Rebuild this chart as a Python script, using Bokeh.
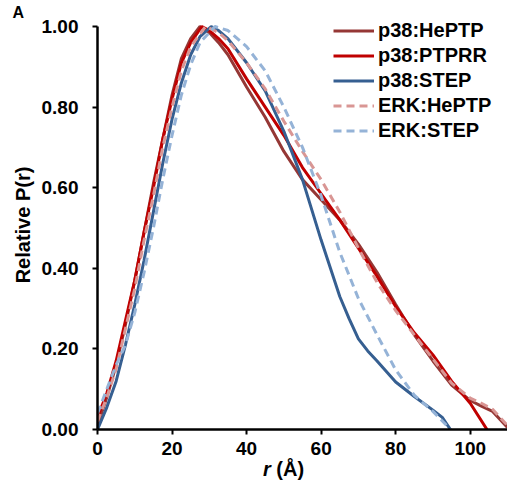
from bokeh.plotting import figure
from bokeh.models import Range1d, FixedTicker, NumeralTickFormatter, Div
from bokeh.layouts import column
from bokeh.embed import file_html
from bokeh.resources import INLINE

# ---- data ----
r_p38_heptp = [0, 2.5, 5, 7.5, 10, 12.5, 15, 17.5, 20, 22.5, 25, 27.5, 30, 32.5, 35, 40, 45, 50, 55, 60, 65, 70, 75, 80, 85, 90, 95, 100, 103, 106, 108, 110]
p_p38_heptp = [0.01, 0.08, 0.16, 0.26, 0.37, 0.49, 0.61, 0.72, 0.83, 0.92, 0.97, 1.0, 0.985, 0.96, 0.93, 0.85, 0.775, 0.69, 0.62, 0.57, 0.52, 0.46, 0.39, 0.31, 0.235, 0.17, 0.11, 0.072, 0.058, 0.045, 0.025, 0.005]

r_p38_ptprr = [0, 2.5, 5, 7.5, 10, 12.5, 15, 17.5, 20, 22.5, 25, 28, 30, 32.5, 35, 40, 45, 50, 55, 60, 65, 70, 75, 80, 85, 90, 95, 100, 104.5]
p_p38_ptprr = [0.03, 0.09, 0.17, 0.27, 0.37, 0.49, 0.60, 0.72, 0.82, 0.91, 0.96, 1.0, 0.99, 0.97, 0.945, 0.87, 0.80, 0.73, 0.65, 0.585, 0.52, 0.45, 0.38, 0.305, 0.24, 0.185, 0.12, 0.065, 0.0]

r_p38_step = [0, 2.5, 5, 7.5, 10, 12.5, 15, 17.5, 20, 22.5, 25, 27.5, 30.5, 32.5, 35, 40, 45, 50, 55, 60, 65, 67.5, 70, 72.5, 75, 80, 85, 90, 92.5, 94.7]
p_p38_step = [0.0, 0.055, 0.12, 0.21, 0.31, 0.42, 0.54, 0.66, 0.77, 0.86, 0.93, 0.975, 1.0, 0.99, 0.97, 0.91, 0.84, 0.74, 0.62, 0.47, 0.33, 0.275, 0.225, 0.195, 0.17, 0.118, 0.082, 0.048, 0.03, 0.0]

r_erk_heptp = [0, 2.5, 5, 7.5, 10, 12.5, 15, 17.5, 20, 22.5, 25, 29, 32.5, 35, 40, 45, 50, 55, 60, 65, 70, 75, 80, 85, 90, 95, 100, 103, 106, 108, 110]
p_erk_heptp = [0.02, 0.08, 0.15, 0.25, 0.35, 0.47, 0.58, 0.70, 0.80, 0.89, 0.95, 1.0, 0.985, 0.965, 0.91, 0.845, 0.765, 0.69, 0.62, 0.54, 0.45, 0.365, 0.295, 0.235, 0.175, 0.115, 0.078, 0.065, 0.05, 0.03, 0.01]

r_erk_step = [0, 2.5, 5, 7.5, 10, 12.5, 15, 17.5, 20, 22.5, 25, 27.5, 31.5, 35, 40, 45, 50, 55, 60, 65, 70, 75, 80, 85, 90, 94.7]
p_erk_step = [0.04, 0.10, 0.16, 0.21, 0.29, 0.39, 0.50, 0.62, 0.73, 0.83, 0.905, 0.96, 1.0, 0.99, 0.95, 0.89, 0.80, 0.70, 0.58, 0.44, 0.325, 0.235, 0.148, 0.085, 0.045, 0.0]

x_ticks = [0, 20, 40, 60, 80, 100]
y_ticks = [0.0, 0.2, 0.4, 0.6, 0.8, 1.0]

FONT = "Liberation Sans"

p = figure(width=507, height=462, output_backend="svg", toolbar_location=None,
           x_range=Range1d(0, 110), y_range=Range1d(0, 1.0149),
           min_border_left=97, min_border_top=20, min_border_right=0, min_border_bottom=33,
           title="A", margin=(0, 0, 0, 0))
p.grid.visible = False
p.outline_line_color = None
p.background_fill_color = "white"

p.title.align = "left"
p.title.offset = -85
p.title.standoff = 0
p.title.text_font = FONT
p.title.text_font_style = "bold"
p.title.text_font_size = "16px"
p.title.text_color = "black"

series = [
    (r_p38_heptp, p_p38_heptp, "#953735", "solid", "p38:HePTP"),
    (r_p38_ptprr, p_p38_ptprr, "#C00000", "solid", "p38:PTPRR"),
    (r_p38_step, p_p38_step, "#365F91", "solid", "p38:STEP"),
    (r_erk_heptp, p_erk_heptp, "#D99694", "8 5", "ERK:HePTP"),
    (r_erk_step, p_erk_step, "#95B3D7", "8 5", "ERK:STEP"),
]
for xs, ys, col, dash, lab in series:
    p.line(xs, ys, line_color=col, line_width=3, line_dash=dash, legend_label=lab)

for ax in (p.xaxis[0], p.yaxis[0]):
    ax.axis_line_color = "black"
    ax.axis_line_width = 2.5
    ax.major_tick_line_color = "black"
    ax.major_tick_line_width = 2
    ax.major_tick_out = 5
    ax.major_tick_in = 0
    ax.minor_tick_line_color = None
    ax.major_label_text_font = FONT
    ax.major_label_text_font_style = "bold"
    ax.major_label_text_font_size = "19px"
    ax.major_label_text_color = "black"

p.xaxis.ticker = FixedTicker(ticks=x_ticks)
p.yaxis.ticker = FixedTicker(ticks=y_ticks)
p.yaxis.formatter = NumeralTickFormatter(format="0.00")
p.yaxis.bounds = (0, 1)
p.xaxis.major_label_standoff = 7
p.yaxis.major_label_standoff = 14

p.yaxis.axis_label = "Relative P(r)"
p.yaxis.axis_label_text_font = FONT
p.yaxis.axis_label_text_font_style = "bold"
p.yaxis.axis_label_text_font_size = "20px"
p.yaxis.axis_label_text_color = "black"
p.yaxis.axis_label_standoff = 5

lg = p.legend[0]
lg.location = (236, 286)
lg.padding = 0
lg.margin = 0
lg.spacing = 0
lg.border_line_alpha = 0
lg.background_fill_alpha = 0
lg.glyph_width = 41
lg.glyph_height = 25
lg.label_height = 25
lg.label_standoff = 4
lg.label_text_font = FONT
lg.label_text_font_style = "bold"
lg.label_text_font_size = "20px"
lg.label_text_color = "black"

xtitle = Div(text='<div style="margin-left:263px; font-family:\'Liberation Sans\'; font-weight:bold; '
                  'font-size:20px; line-height:14px; color:black; white-space:nowrap;">'
                  '<i>r</i> (Å)</div>',
             width=507, height=22, margin=(0, 0, 0, 0))

layout = column(p, xtitle, spacing=0)
open("out.html", "w").write(file_html(layout, INLINE))
